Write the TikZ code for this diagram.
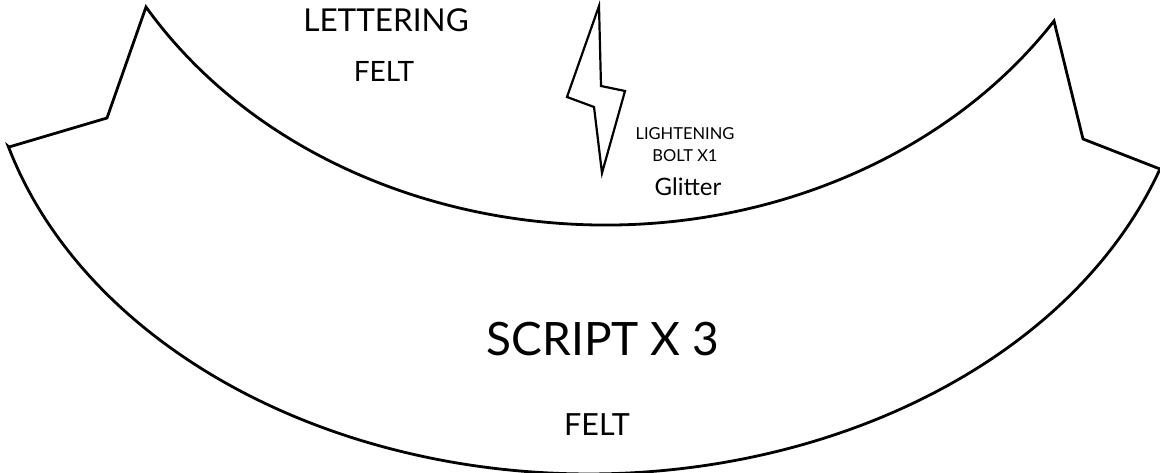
\documentclass[tikz,border=0pt]{standalone}
\usepackage{fontspec}
\setmainfont{Lato}
\newcommand*{\PutTexts}[1]{% #1 = list of name/x/y/size/text
  \foreach \n/\x/\y/\s/\t in {#1} {
    \node [label text, font=\fontsize{\s}{\s}\selectfont] (\n) at (\x,\y) {\t};
    }%
}
\tikzset{
  outline/.style={line width=2.8pt, line join=miter},
  bolt/.style={line width=2.2pt, line join=miter},
  label text/.style={anchor=base, inner sep=0pt},
}

\begin{document}
\begin{tikzpicture}[x=1pt, y=1pt]
  \useasboundingbox (0,0) rectangle (1160,472);
  \draw [outline] (9,325) -- (107,354) -- (146,465)
    arc [start angle=211.25, end angle=326.66, x radius=537.2, y radius=453]
    -- (1083,333) -- (1160,303)
    arc [start angle=341, end angle=196, x radius=604, y radius=452]
    -- cycle;
  \draw [bolt] (599,466) -- (601,386) -- (625,381) -- (602,299)
    -- (594,365) -- (567,375) -- cycle;
  \PutTexts{lettering/386/440/31.5/LETTERING, topfelt/384/390/28/FELT}
  \PutTexts{lightening/685/332/16.5/LIGHTENING, boltx/685/310/16.5/BOLT X1, glitter/688/276/24/Glitter}
  \PutTexts{script/603/117/46/SCRIPT X 3, bottomfelt/597/37/30.5/FELT}
\end{tikzpicture}
\end{document}
